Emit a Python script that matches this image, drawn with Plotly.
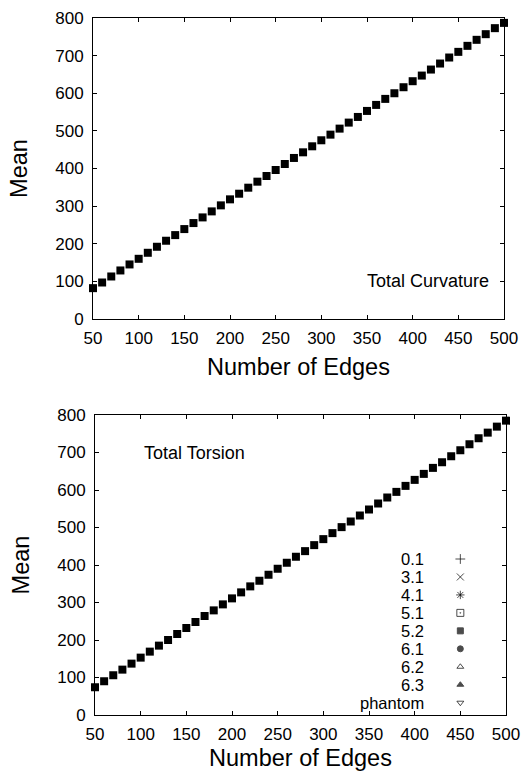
import plotly.graph_objects as go

# ---- data ----
edges = [50, 60, 70, 80, 90, 100, 110, 120, 130, 140, 150, 160, 170, 180, 190,
         200, 210, 220, 230, 240, 250, 260, 270, 280, 290, 300, 310, 320, 330,
         340, 350, 360, 370, 380, 390, 400, 410, 420, 430, 440, 450, 460, 470,
         480, 490, 500]

curvature_mean = [82, 97, 113, 129, 145, 160, 176, 192, 208, 223, 239, 255, 270,
                  286, 302, 318, 333, 349, 365, 380, 396, 412, 428, 443, 459, 475,
                  490, 506, 522, 537, 553, 569, 585, 600, 616, 632, 647, 663, 679,
                  695, 710, 726, 742, 757, 773, 787]

torsion_mean = [74, 90, 106, 121, 137, 153, 169, 185, 200, 216, 232, 248, 264,
                279, 295, 311, 327, 343, 358, 374, 390, 406, 422, 437, 453, 469,
                485, 501, 516, 532, 548, 564, 580, 595, 611, 627, 643, 659, 674,
                690, 706, 722, 738, 753, 769, 785]

knot_types = ["0.1", "3.1", "4.1", "5.1", "5.2", "6.1", "6.2", "6.3", "phantom"]

x_ticks = [50, 100, 150, 200, 250, 300, 350, 400, 450, 500]
y_ticks = [0, 100, 200, 300, 400, 500, 600, 700, 800]

# ---- style ----
FONT = "Arial, 'Liberation Sans', sans-serif"
W, H = 529, 771
legend_symbols = ["cross-thin-open", "x-thin-open", "asterisk-open", "square-open-dot",
                  "square", "circle", "triangle-up-open", "triangle-up", "triangle-down-open"]
legend_sizes = [7, 7, 7, 7, 6, 6, 6, 6, 6]
legend_top, legend_step = 416, 47.9
legend_text_x, legend_marker_x = 412, 450

fig = go.Figure()

fig.add_trace(go.Scatter(x=edges, y=curvature_mean, mode="markers", xaxis="x", yaxis="y",
                         marker=dict(symbol="square", size=8, color="black"),
                         cliponaxis=False, showlegend=False))
fig.add_trace(go.Scatter(x=edges, y=torsion_mean, mode="markers", xaxis="x2", yaxis="y2",
                         marker=dict(symbol="square", size=8, color="black"),
                         cliponaxis=False, showlegend=False))

leg_y = [legend_top - i * legend_step for i in range(len(knot_types))]
fig.add_trace(go.Scatter(x=[legend_marker_x] * len(knot_types), y=leg_y, mode="markers",
                         xaxis="x2", yaxis="y2",
                         marker=dict(symbol=legend_symbols, size=legend_sizes, color="black",
                                     line=dict(color="black", width=1)),
                         cliponaxis=False, showlegend=False))

annotations = []
for name, yy in zip(knot_types, leg_y):
    annotations.append(dict(x=legend_text_x, y=yy, xref="x2", yref="y2", text=name,
                            showarrow=False, xanchor="right", yanchor="middle",
                            font=dict(family=FONT, size=16.5, color="black")))
annotations.append(dict(x=486, y=101, xref="x", yref="y", text="Total Curvature",
                        showarrow=False, xanchor="right", yanchor="middle",
                        font=dict(family=FONT, size=18, color="black")))
annotations.append(dict(x=101, y=699, xref="x2", yref="y2", text="Total Torsion",
                        showarrow=False, xanchor="left", yanchor="middle",
                        font=dict(family=FONT, size=18, color="black")))

def xax(domain, anchor):
    return dict(domain=domain, anchor=anchor, range=[50, 500], tickvals=x_ticks,
                ticks="inside", ticklen=4, tickcolor="black", mirror="ticks",
                showline=True, linecolor="black", linewidth=1, showgrid=False,
                zeroline=False, automargin=False, ticklabelstandoff=4,
                tickfont=dict(family=FONT, size=17, color="black"),
                title=dict(text="Number of Edges", standoff=11,
                           font=dict(family=FONT, size=23.5, color="black")))

def yax(domain, anchor):
    return dict(domain=domain, anchor=anchor, range=[0, 800], tickvals=y_ticks,
                ticks="inside", ticklen=4, tickcolor="black", mirror="ticks",
                showline=True, linecolor="black", linewidth=1, showgrid=False,
                zeroline=False, automargin=False, ticklabelstandoff=5,
                tickfont=dict(family=FONT, size=17, color="black"),
                title=dict(text="Mean", standoff=20,
                           font=dict(family=FONT, size=23.5, color="black")))

fig.update_layout(
    width=W, height=H, margin=dict(l=0, r=0, t=0, b=0),
    paper_bgcolor="white", plot_bgcolor="white",
    xaxis=xax([93 / W, 504 / W], "y"),
    yaxis=yax([1 - 319 / H, 1 - 18 / H], "x"),
    xaxis2=xax([95 / W, 506 / W], "y2"),
    yaxis2=yax([1 - 715 / H, 1 - 415 / H], "x2"),
    annotations=annotations,
    showlegend=False,
)

fig.write_html("out.html")
